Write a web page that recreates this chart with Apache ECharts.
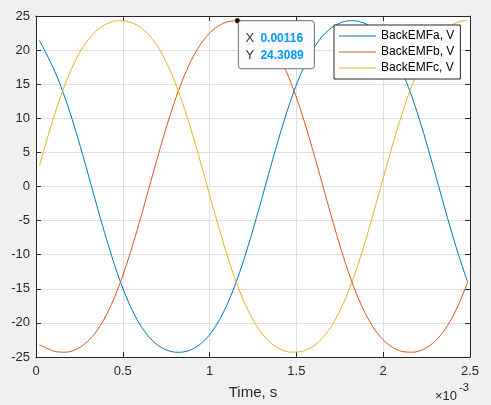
<!DOCTYPE html>
<html>
<head>
<meta charset="utf-8" />
<title>BackEMF</title>
<style>
  html, body { margin: 0; padding: 0; background: #f0f0f0; }
  #main { width: 491px; height: 405px; }
</style>
</head>
<body>
<div id="main"></div>
<script src="https://cdn.jsdelivr.net/npm/echarts@6.0.0/dist/echarts.min.js"></script>
<script>
// time axis, in units of 1e-3 s (the axis shows x10^-3)
var timeMs = [
  0.02, 0.07, 0.12, 0.17, 0.22, 0.27, 0.32, 0.37, 0.42, 0.47,
  0.52, 0.57, 0.62, 0.67, 0.72, 0.77, 0.82, 0.87, 0.92, 0.97,
  1.02, 1.07, 1.12, 1.17, 1.22, 1.27, 1.32, 1.37, 1.42, 1.47,
  1.52, 1.57, 1.62, 1.67, 1.72, 1.77, 1.82, 1.87, 1.92, 1.97,
  2.02, 2.07, 2.12, 2.17, 2.22, 2.27, 2.32, 2.37, 2.42, 2.47, 2.487
];
var emfA = [
  21.4, 18.927, 16.178, 12.806, 8.884, 4.552, 0, -4.552, -8.884, -12.806,
  -16.178, -18.927, -21.041, -22.564, -23.569, -24.134, -24.31, -24.134, -23.569, -22.564,
  -21.041, -18.927, -16.178, -12.806, -8.884, -4.552, 0, 4.552, 8.884, 12.806,
  16.178, 18.927, 21.041, 22.564, 23.569, 24.134, 24.31, 24.134, 23.569, 22.564,
  21.041, 18.927, 16.178, 12.806, 8.884, 4.552, 0, -4.552, -8.884, -12.806, -13.996
];
var emfB = [
  -23.2, -23.803, -24.234, -24.294, -23.990, -23.287, -22.118, -20.405, -18.082, -15.121,
  -11.554, -7.477, -3.049, 1.529, 6.031, 10.245, 13.996, 17.165, 19.701, 21.612,
  22.953, 23.803, 24.234, 24.294, 23.990, 23.287, 22.118, 20.405, 18.082, 15.121,
  11.554, 7.477, 3.049, -1.529, -6.031, -10.245, -13.996, -17.165, -19.701, -21.612,
  -22.953, -23.803, -24.234, -24.294, -23.990, -23.287, -22.118, -20.405, -18.082, -15.121, -13.996
];
var emfC = [
  3.049, 7.477, 11.554, 15.121, 18.082, 20.405, 22.118, 23.287, 23.990, 24.294,
  24.234, 23.803, 22.953, 21.612, 19.701, 17.165, 13.996, 10.245, 6.031, 1.529,
  -3.049, -7.477, -11.554, -15.121, -18.082, -20.405, -22.118, -23.287, -23.990, -24.294,
  -24.234, -23.803, -22.953, -21.612, -19.701, -17.165, -13.996, -10.245, -6.031, -1.529,
  3.049, 7.477, 11.554, 15.121, 18.082, 20.405, 22.118, 23.287, 23.990, 24.294, 24.31
];
var seriesNames = ['BackEMFa, V', 'BackEMFb, V', 'BackEMFc, V'];
var seriesColors = ['#0072BD', '#D95319', '#EDB120'];
// data tip
var tipX = 1.16;
var tipY = 24.3089;
var tipText = ['0.00116', '24.3089'];

function pairs(xs, ys) {
  return xs.map(function (x, i) { return [x, ys[i]]; });
}

var axisColor = '#262626';
var font = 'Arial, Liberation Sans, sans-serif';
var chart = echarts.init(document.getElementById('main'));

var tickAxisX = {
  type: 'value', min: 0, max: 2.5, interval: 0.5
};
var tickAxisY = {
  type: 'value', min: -25, max: 25, interval: 5
};

chart.setOption({
  backgroundColor: '#f0f0f0',
  animation: false,
  grid: {
    left: 36, right: 21, top: 16, bottom: 48,
    show: true, backgroundColor: '#ffffff', borderWidth: 0
  },
  legend: {
    orient: 'vertical',
    left: 334, top: 25,
    padding: [5, 6, 5, 5],
    itemGap: 4,
    itemWidth: 37,
    itemHeight: 1,
    icon: 'rect',
    backgroundColor: '#ffffff',
    borderColor: axisColor,
    borderWidth: 1,
    textStyle: { color: '#000', fontSize: 12, fontFamily: font },
    data: seriesNames
  },
  xAxis: [
    Object.assign({}, tickAxisX, {
      position: 'bottom',
      name: 'Time, s',
      nameLocation: 'middle',
      nameGap: 28,
      nameTextStyle: { color: axisColor, fontSize: 15, fontFamily: font },
      axisLine: { show: true, onZero: false, lineStyle: { color: axisColor, width: 1 } },
      axisTick: { show: true, inside: true, length: 5, lineStyle: { color: axisColor } },
      axisLabel: { color: axisColor, fontSize: 13, margin: 8, fontFamily: font },
      splitLine: { show: true, lineStyle: { color: '#dfdfdf', width: 1 } }
    }),
    Object.assign({}, tickAxisX, {
      position: 'top',
      axisLine: { show: true, onZero: false, lineStyle: { color: axisColor, width: 1 } },
      axisTick: { show: true, inside: true, length: 5, lineStyle: { color: axisColor } },
      axisLabel: { show: false },
      splitLine: { show: false }
    })
  ],
  yAxis: [
    Object.assign({}, tickAxisY, {
      position: 'left',
      axisLine: { show: true, onZero: false, lineStyle: { color: axisColor, width: 1 } },
      axisTick: { show: true, inside: true, length: 5, lineStyle: { color: axisColor } },
      axisLabel: { color: axisColor, fontSize: 13, margin: 6, fontFamily: font },
      splitLine: { show: true, lineStyle: { color: '#dfdfdf', width: 1 } }
    }),
    Object.assign({}, tickAxisY, {
      position: 'right',
      axisLine: { show: true, onZero: false, lineStyle: { color: axisColor, width: 1 } },
      axisTick: { show: true, inside: true, length: 5, lineStyle: { color: axisColor } },
      axisLabel: { show: false },
      splitLine: { show: false }
    })
  ],
  series: [
    {
      name: seriesNames[0], type: 'line', data: pairs(timeMs, emfA),
      showSymbol: false, smooth: 0.4, color: seriesColors[0],
      lineStyle: { width: 1 }
    },
    {
      name: seriesNames[1], type: 'line', data: pairs(timeMs, emfB),
      showSymbol: false, smooth: 0.4, color: seriesColors[1],
      lineStyle: { width: 1 },
      markPoint: {
        symbol: 'circle', symbolSize: 6,
        itemStyle: { color: '#111', borderColor: '#fff6c8', borderWidth: 1 },
        label: { show: false },
        data: [{ coord: [tipX, tipY] }]
      }
    },
    {
      name: seriesNames[2], type: 'line', data: pairs(timeMs, emfC),
      showSymbol: false, smooth: 0.4, color: seriesColors[2],
      lineStyle: { width: 1 }
    }
  ]
});

// data tip box and the x10^-3 exponent label
var p = chart.convertToPixel({ xAxisIndex: 0, yAxisIndex: 0 }, [tipX, tipY]);
var bx = p[0] + 1, by = p[1] + 0;
chart.setOption({
  graphic: [
    {
      type: 'rect', z: 100,
      shape: { x: bx, y: by, width: 76, height: 48, r: 3 },
      style: { fill: '#fbfbfd', stroke: '#6e6e6e', lineWidth: 1 }
    },
    {
      type: 'text', z: 101, x: bx + 7, y: by + 18,
      style: { text: 'X', fill: '#333', font: '13px ' + font, verticalAlign: 'middle' }
    },
    {
      type: 'text', z: 101, x: bx + 22, y: by + 18,
      style: { text: tipText[0], fill: '#0099ff', font: 'bold 12px ' + font, verticalAlign: 'middle' }
    },
    {
      type: 'text', z: 101, x: bx + 7, y: by + 35,
      style: { text: 'Y', fill: '#333', font: '13px ' + font, verticalAlign: 'middle' }
    },
    {
      type: 'text', z: 101, x: bx + 22, y: by + 35,
      style: { text: tipText[1], fill: '#0099ff', font: 'bold 12px ' + font, verticalAlign: 'middle' }
    },
    {
      type: 'text', z: 101, x: 435, y: 396,
      style: { text: '\u00d710', fill: axisColor, font: '13px ' + font, verticalAlign: 'middle' }
    },
    {
      type: 'text', z: 101, x: 459, y: 388,
      style: { text: '-3', fill: axisColor, font: '11px ' + font, verticalAlign: 'middle' }
    }
  ]
});

window.onresize = function () {
  chart.resize();
};
</script>
</body>
</html>
